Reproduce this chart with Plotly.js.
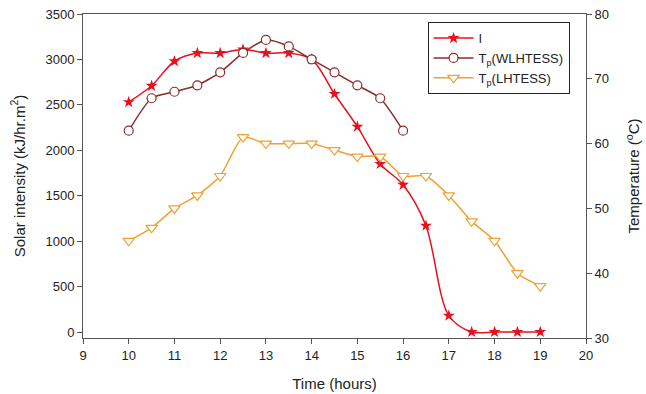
<!DOCTYPE html>
<html><head><meta charset="utf-8">
<script src="https://cdn.plot.ly/plotly-3.0.1.min.js"></script>
<style>html,body{margin:0;padding:0;background:#fff}#c{width:646px;height:394px}</style>
</head><body><div id="c"></div>
<script>
const hours = [10,10.5,11,11.5,12,12.5,13,13.5,14,14.5,15,15.5,16,16.5,17,17.5,18,18.5,19];
const solarI = [2530,2710,2980,3070,3070,3110,3070,3070,3000,2620,2260,1850,1620,1170,180,0,0,0,0];
const hoursW = [10,10.5,11,11.5,12,12.5,13,13.5,14,14.5,15,15.5,16];
const tpWLHTESS = [62,67,68,69,71,74,76,75,73,71,69,67,62];
const tpLHTESS = [45,47,50,52,55,61,60,60,60,59,58,58,55,55,52,48,45,40,38];
const names = ['I','T<sub>p</sub>(WLHTESS)','T<sub>p</sub>(LHTESS)'];
const xTicks = [9,10,11,12,13,14,15,16,17,18,19,20];

const font = {family:'"Liberation Sans", Arial, sans-serif', color:'#222'};
const traces = [
  {x:hours, y:solarI, name:names[0], type:'scatter', mode:'lines+markers',
   line:{color:'#e8101e', width:1.5, shape:'spline', smoothing:0.9},
   marker:{symbol:'star', size:9, color:'#e8101e', line:{width:0}}},
  {x:hoursW, y:tpWLHTESS, name:names[1], yaxis:'y2', type:'scatter', mode:'lines+markers',
   line:{color:'#8a2c2c', width:1.5, shape:'spline', smoothing:0.6},
   marker:{symbol:'circle', size:9, color:'#fff', line:{color:'#8a2c2c', width:1.2}}},
  {x:hours, y:tpLHTESS, name:names[2], yaxis:'y2', type:'scatter', mode:'lines+markers',
   line:{color:'#f0a035', width:1.5, shape:'spline', smoothing:0.6},
   marker:{symbol:'triangle-down', size:10, color:'#fff', line:{color:'#f0a035', width:1.2}}}
];
const layout = {
  width:646, height:394, margin:{l:83, r:60, t:14, b:56},
  paper_bgcolor:'#fff', plot_bgcolor:'#fff', font:Object.assign({size:13}, font),
  showlegend:true,
  legend:{x:0.685, y:0.975, xanchor:'left', yanchor:'top', bgcolor:'#fff',
    bordercolor:'#222', borderwidth:1, font:Object.assign({size:13}, font),
    tracegroupgap:0, itemwidth:40},
  xaxis:{range:[9,20], tickvals:xTicks, ticks:'outside', ticklen:5, tickcolor:'#555',
    showline:true, linecolor:'#555', linewidth:1, mirror:true, showgrid:false, zeroline:false,
    title:{text:'Time (hours)', font:Object.assign({size:15}, font), standoff:16}},
  yaxis:{range:[-66,3500], tickvals:[0,500,1000,1500,2000,2500,3000,3500], ticks:'outside', ticklen:5,
    tickcolor:'#555', showline:true, linecolor:'#555', linewidth:1, showgrid:false, zeroline:false,
    title:{text:'Solar intensity (kJ/hr.m<sup>2</sup>)', font:Object.assign({size:15}, font), standoff:16}},
  yaxis2:{range:[30,80], overlaying:'y', side:'right', tickvals:[30,40,50,60,70,80], ticks:'outside',
    ticklen:5, tickcolor:'#555', showline:true, linecolor:'#555', linewidth:1, showgrid:false, zeroline:false,
    title:{text:'Temperature (<sup>o</sup>C)', font:Object.assign({size:15}, font), standoff:20}}
};
Plotly.newPlot('c', traces, layout, {displayModeBar:false, staticPlot:true});
</script></body></html>
